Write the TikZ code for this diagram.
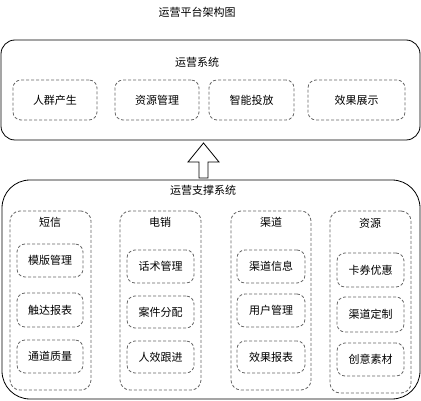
\documentclass[tikz,border=0pt]{standalone}
\usepackage{fontspec}
\setmainfont{Noto Sans CJK SC}
\begin{document}
\begin{tikzpicture}[x=1pt,y=-1pt,line width=0.8pt,
		every node/.style={font=\fontsize{11}{13}\selectfont},
		frame/.style={draw,rounded corners=#1,inner sep=0pt},
		group/.style={draw=black!60,dash pattern=on 3pt off 2pt,rounded corners=10pt,inner sep=0pt,minimum width=81pt,minimum height=179pt},
		item/.style={draw=black!60,dash pattern=on 3pt off 2pt,rounded corners=8pt,inner sep=0pt,minimum width=67pt,minimum height=33pt}]
					\useasboundingbox (0,0) rectangle (421,401);
					\node (title) at (197,12) {运营平台架构图};
					% 运营系统
					\node[frame=14pt,minimum width=419pt,minimum height=100pt] (sys) at (210.5,90) {};
					\node (systitle) at (197,62) {运营系统};
					\node[item,minimum width=84pt,minimum height=40pt] (crowd) at (55,100) {人群产生};
					\node[item,minimum width=84pt,minimum height=40pt] (res) at (157,100) {资源管理};
					\node[item,minimum width=85pt,minimum height=40pt] (smart) at (251.5,100) {智能投放};
					\node[item,minimum width=97pt,minimum height=40pt] (effect) at (356.5,100) {效果展示};
					% hollow arrow
					\draw (199,178)--++(0,-16)--++(-11,0)--++(15.5,-19)--++(15.5,19)--++(-11,0)--++(0,16)--cycle;
					% 运营支撑系统
					\node[frame=28pt,minimum width=418pt,minimum height=219pt] (sup) at (211,289.5) {};
					\node (suptitle) at (203,190) {运营支撑系统};
					\node[group] (sms) at (50.5,300.5) {};
					\node[group] (tel) at (160.5,300.5) {};
					\node[group,minimum width=80pt] (chan) at (271,300.5) {};
					\node[group,minimum height=182pt] (rsrc) at (370.5,302) {};
					\path (50,222) node (smst) {短信} (160,222) node (telt) {电销} (271,222) node (chant) {渠道} (370,223) node (rsrct) {资源};
					\node[item,minimum width=66pt] (sms1) at (50,260.5) {模版管理};
					\node[item,minimum width=66pt,minimum height=34pt] (sms2) at (50,310) {触达报表};
					\node[item,minimum width=66pt] (sms3) at (50,356.5) {通道质量};
					\node[item] (tel1) at (160.5,266.5) {话术管理};
					\node[item,minimum height=32pt] (tel2) at (160.5,312) {案件分配};
					\node[item,minimum height=32pt] (tel3) at (160.5,357) {人效跟进};
					\node[item,minimum width=68pt] (chan1) at (271,266.5) {渠道信息};
					\node[item,minimum width=68pt] (chan2) at (271,310.5) {用户管理};
					\node[item,minimum width=68pt,minimum height=32pt] (chan3) at (271,357) {效果报表};
					\node[item,minimum height=34pt] (rsrc1) at (370.5,270) {卡券优惠};
					\node[item,minimum height=35pt] (rsrc2) at (370.5,314.5) {渠道定制};
					\node[item] (rsrc3) at (370.5,359.5) {创意素材};
		\end{tikzpicture}
\end{document}
